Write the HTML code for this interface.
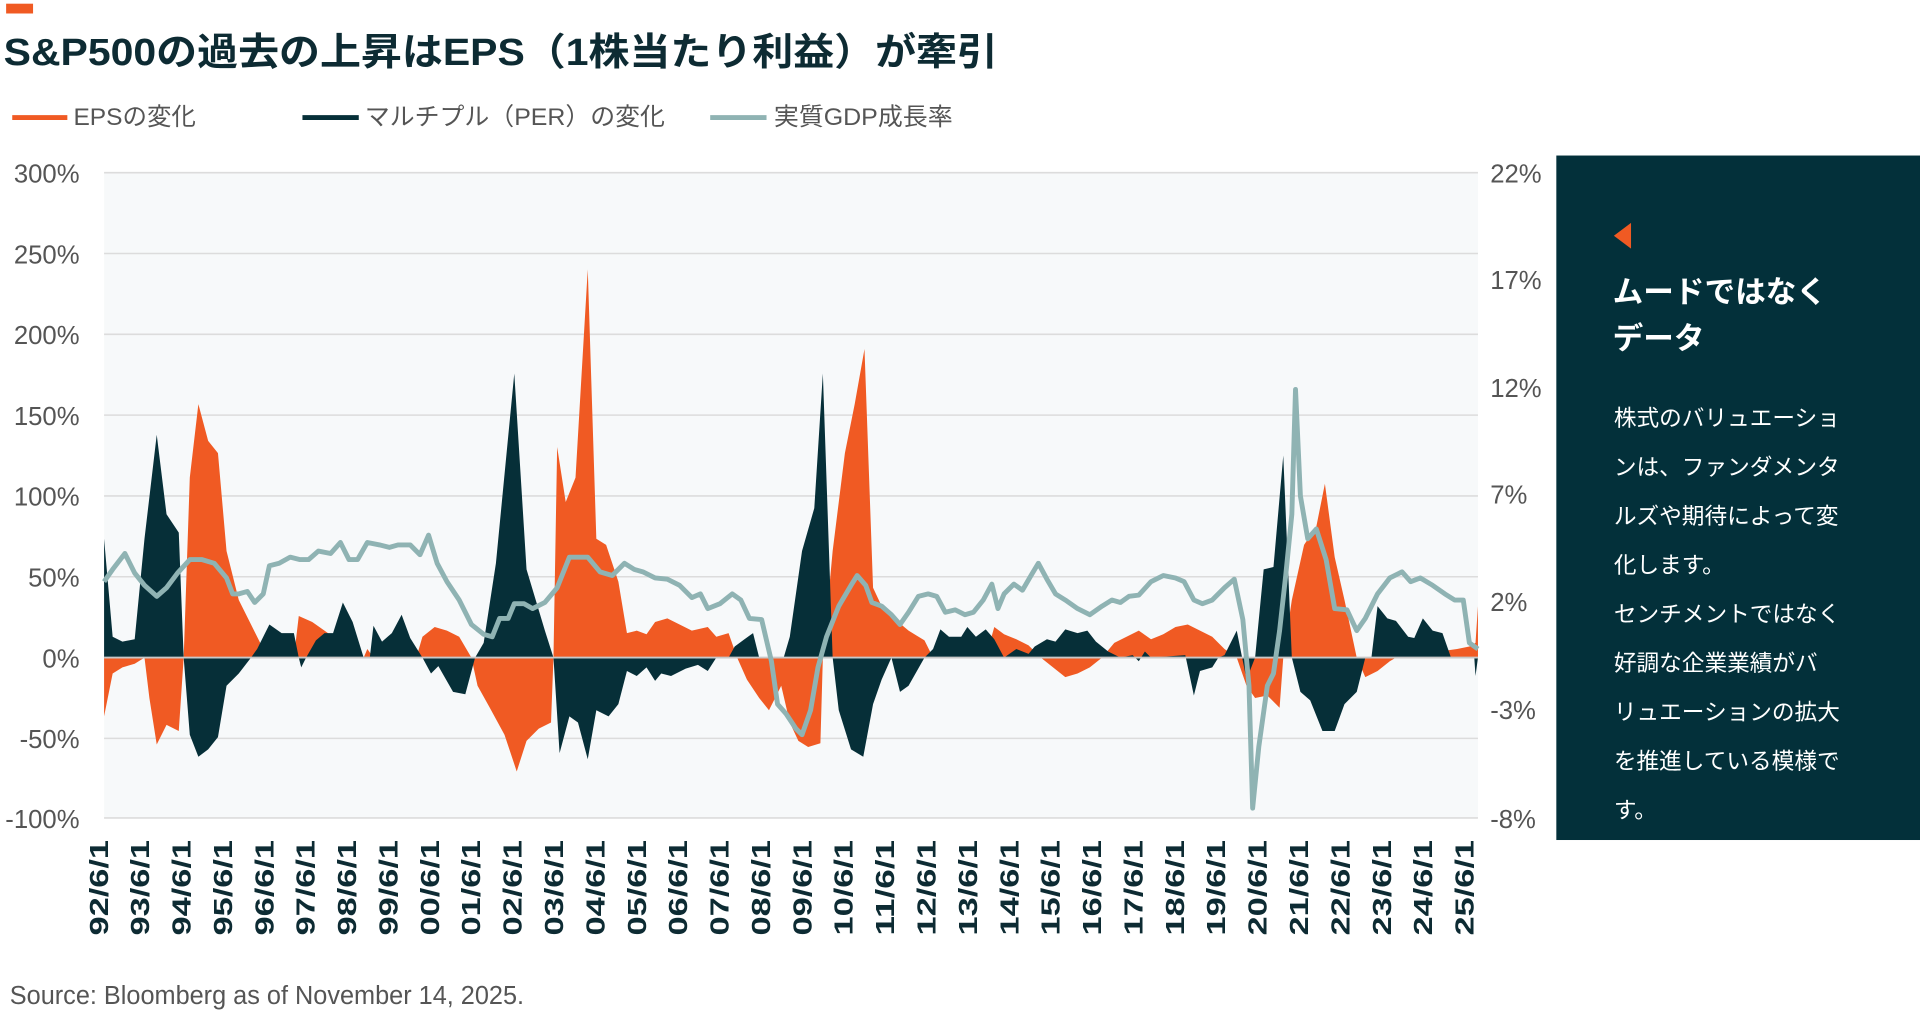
<!DOCTYPE html>
<html><head><meta charset="utf-8"><style>
html,body{margin:0;padding:0;background:#fff;width:1920px;height:1016px;overflow:hidden}
svg{display:block}
text{font-family:"Liberation Sans","Noto Sans CJK JP",sans-serif}
</style></head><body>
<svg width="1920" height="1016" viewBox="0 0 1568 829.7" xmlns="http://www.w3.org/2000/svg">
<rect x="5" y="3" width="22" height="8" fill="#f05a23"/>
<text x="3" y="53" font-size="31" font-weight="bold" fill="#0d2b33" textLength="812" lengthAdjust="spacingAndGlyphs">S&amp;P500の過去の上昇はEPS（1株当たり利益）が牽引</text>
<g font-size="20" fill="#555">
<line x1="10" y1="96" x2="55" y2="96" stroke="#f05a23" stroke-width="4"/><text x="60" y="102" textLength="100" lengthAdjust="spacingAndGlyphs">EPSの変化</text>
<line x1="247" y1="96" x2="293" y2="96" stroke="#062f38" stroke-width="4"/><text x="298" y="102" textLength="245" lengthAdjust="spacingAndGlyphs">マルチプル（PER）の変化</text>
<line x1="580" y1="96" x2="626" y2="96" stroke="#8fb3b3" stroke-width="4"/><text x="632" y="102" textLength="146" lengthAdjust="spacingAndGlyphs">実質GDP成長率</text>
</g>
<rect x="85" y="141" width="1122" height="527" fill="#f7f9fa"/>
<g stroke="#dcdcdc" stroke-width="1.3">
<line x1="85" y1="141" x2="1207" y2="141"/><line x1="85" y1="207" x2="1207" y2="207"/><line x1="85" y1="273" x2="1207" y2="273"/><line x1="85" y1="339" x2="1207" y2="339"/><line x1="85" y1="405" x2="1207" y2="405"/><line x1="85" y1="471" x2="1207" y2="471"/><line x1="85" y1="603" x2="1207" y2="603"/><line x1="85" y1="668" x2="1207" y2="668"/>
</g>
<g font-size="21" fill="#555" text-anchor="end">
<text x="65" y="149">300%</text><text x="65" y="215">250%</text><text x="65" y="281">200%</text><text x="65" y="347">150%</text><text x="65" y="413">100%</text><text x="65" y="479">50%</text><text x="65" y="545">0%</text><text x="65" y="611">-50%</text><text x="65" y="676">-100%</text>
</g>
<g font-size="21" fill="#555">
<text x="1217" y="149">22%</text><text x="1217" y="236">17%</text><text x="1217" y="324">12%</text><text x="1217" y="411">7%</text><text x="1217" y="499">2%</text><text x="1217" y="587">-3%</text><text x="1217" y="676">-8%</text>
</g>
<polygon fill="#f05a23" points="85,537 85,585 92,550 100,545 110,542 118,537 122,570 128,608 136,592 146,597 150,537 155,390 162,330 170,360 178,370 185,450 195,490 205,510 215,530 220,537 240,537 244,503 255,508 265,515 272,520 280,537 297,537 300,530 305,537 340,537 345,520 355,512 365,515 375,520 385,537 390,560 400,578 412,600 422,630 430,605 440,595 450,590 452,537 455,365 462,410 470,390 480,220 487,440 495,445 505,475 512,517 520,515 528,518 535,508 545,505 555,510 565,515 578,512 585,520 595,517 602,537 610,555 620,570 628,580 638,560 645,590 652,605 660,610 670,607 672,537 680,450 690,370 698,330 706,285 713,480 720,495 730,505 742,515 755,523 762,537 805,537 812,512 820,518 830,522 840,527 850,537 860,545 870,553 880,550 890,545 900,537 910,525 920,520 930,515 940,522 950,518 960,512 970,510 980,515 990,520 1000,530 1010,537 1018,560 1025,570 1035,568 1045,578 1048,537 1055,490 1065,445 1075,430 1082,395 1090,455 1098,490 1108,537 1115,553 1125,548 1135,540 1140,537 1190,530 1200,528 1205,525 1207,495 1207,537"/>
<polygon fill="#062f38" points="85,537 85,440 92,520 100,524 110,522 118,440 128,355 136,420 146,435 150,537 155,600 162,618 170,612 178,602 185,560 195,550 205,537 210,530 220,510 230,517 240,517 244,537 246,545 250,537 258,523 265,517 272,517 280,492 288,508 297,537 302,537 305,511 312,524 320,517 328,502 335,521 345,537 352,550 358,544 370,565 380,567 388,537 395,525 405,460 420,305 430,465 445,515 452,537 457,615 465,585 472,590 480,620 487,580 497,585 505,575 512,548 520,552 528,545 535,556 540,550 548,552 560,546 570,543 578,548 585,537 595,537 600,528 608,522 615,517 620,537 640,537 645,520 655,450 665,415 672,305 680,537 685,580 695,612 705,618 713,575 720,555 728,537 735,565 742,560 755,537 762,530 768,514 775,520 785,520 790,512 797,520 805,514 812,522 820,537 830,530 840,534 845,528 855,522 862,524 870,514 880,517 888,515 895,524 905,532 915,537 925,535 930,540 935,532 940,537 968,535 975,568 980,548 990,545 995,537 1000,535 1010,515 1018,555 1025,537 1032,465 1040,463 1048,372 1055,537 1062,565 1070,572 1080,597 1090,597 1098,575 1108,565 1115,537 1120,537 1125,495 1133,505 1140,507 1150,520 1155,521 1162,505 1170,515 1178,517 1185,537 1204,537 1205,552 1207,537"/>
<line x1="85" y1="537" x2="1207" y2="537" stroke="#c8c8c8" stroke-width="1.5"/>
<polyline fill="none" stroke="#8fb3b3" stroke-width="4" stroke-linejoin="round" points="85,475 92,465 102,452 110,468 118,478 128,487 136,480 145,468 155,457 165,457 175,460 185,472 190,485 195,485 202,483 208,492 215,485 220,462 228,460 237,455 245,457 252,457 260,450 270,452 278,443 285,457 292,457 300,443 310,445 318,447 325,445 335,445 343,453 350,437 357,460 365,475 375,490 385,510 395,518 402,520 408,505 415,505 420,493 428,493 435,497 445,492 455,480 465,455 472,455 480,455 490,467 500,470 510,460 518,465 525,467 535,472 545,473 555,478 565,488 572,485 578,497 588,493 598,485 605,490 612,505 622,506 630,540 635,575 642,583 650,595 655,600 662,580 668,545 675,520 685,495 695,478 700,470 707,478 712,492 720,495 728,502 735,510 742,500 750,487 758,485 765,487 772,500 780,498 788,502 795,500 803,490 810,477 815,497 820,485 828,477 835,482 842,470 848,460 855,473 862,485 870,490 880,497 890,502 900,495 908,490 915,492 922,487 930,486 940,475 950,470 960,472 967,475 975,490 982,493 990,490 1000,480 1008,473 1015,506 1020,560 1023,660 1028,610 1035,560 1040,550 1045,515 1050,470 1055,420 1058,318 1062,405 1068,440 1075,432 1083,457 1090,497 1100,498 1108,515 1115,505 1125,485 1135,472 1145,467 1152,475 1160,472 1170,478 1180,485 1188,490 1195,490 1200,525 1207,530"/>
<g font-size="21" font-weight="bold" fill="#0d2b33" text-anchor="end">
<text transform="translate(88,686) rotate(-90)" textLength="78" lengthAdjust="spacingAndGlyphs">92/6/1</text>
<text transform="translate(121.8,686) rotate(-90)" textLength="78" lengthAdjust="spacingAndGlyphs">93/6/1</text>
<text transform="translate(155.6,686) rotate(-90)" textLength="78" lengthAdjust="spacingAndGlyphs">94/6/1</text>
<text transform="translate(189.4,686) rotate(-90)" textLength="78" lengthAdjust="spacingAndGlyphs">95/6/1</text>
<text transform="translate(223.2,686) rotate(-90)" textLength="78" lengthAdjust="spacingAndGlyphs">96/6/1</text>
<text transform="translate(257,686) rotate(-90)" textLength="78" lengthAdjust="spacingAndGlyphs">97/6/1</text>
<text transform="translate(290.8,686) rotate(-90)" textLength="78" lengthAdjust="spacingAndGlyphs">98/6/1</text>
<text transform="translate(324.6,686) rotate(-90)" textLength="78" lengthAdjust="spacingAndGlyphs">99/6/1</text>
<text transform="translate(358.4,686) rotate(-90)" textLength="78" lengthAdjust="spacingAndGlyphs">00/6/1</text>
<text transform="translate(392.2,686) rotate(-90)" textLength="78" lengthAdjust="spacingAndGlyphs">01/6/1</text>
<text transform="translate(426,686) rotate(-90)" textLength="78" lengthAdjust="spacingAndGlyphs">02/6/1</text>
<text transform="translate(459.8,686) rotate(-90)" textLength="78" lengthAdjust="spacingAndGlyphs">03/6/1</text>
<text transform="translate(493.6,686) rotate(-90)" textLength="78" lengthAdjust="spacingAndGlyphs">04/6/1</text>
<text transform="translate(527.4,686) rotate(-90)" textLength="78" lengthAdjust="spacingAndGlyphs">05/6/1</text>
<text transform="translate(561.2,686) rotate(-90)" textLength="78" lengthAdjust="spacingAndGlyphs">06/6/1</text>
<text transform="translate(595,686) rotate(-90)" textLength="78" lengthAdjust="spacingAndGlyphs">07/6/1</text>
<text transform="translate(628.8,686) rotate(-90)" textLength="78" lengthAdjust="spacingAndGlyphs">08/6/1</text>
<text transform="translate(662.6,686) rotate(-90)" textLength="78" lengthAdjust="spacingAndGlyphs">09/6/1</text>
<text transform="translate(696.4,686) rotate(-90)" textLength="78" lengthAdjust="spacingAndGlyphs">10/6/1</text>
<text transform="translate(730.2,686) rotate(-90)" textLength="78" lengthAdjust="spacingAndGlyphs">11/6/1</text>
<text transform="translate(764,686) rotate(-90)" textLength="78" lengthAdjust="spacingAndGlyphs">12/6/1</text>
<text transform="translate(797.8,686) rotate(-90)" textLength="78" lengthAdjust="spacingAndGlyphs">13/6/1</text>
<text transform="translate(831.6,686) rotate(-90)" textLength="78" lengthAdjust="spacingAndGlyphs">14/6/1</text>
<text transform="translate(865.4,686) rotate(-90)" textLength="78" lengthAdjust="spacingAndGlyphs">15/6/1</text>
<text transform="translate(899.2,686) rotate(-90)" textLength="78" lengthAdjust="spacingAndGlyphs">16/6/1</text>
<text transform="translate(933,686) rotate(-90)" textLength="78" lengthAdjust="spacingAndGlyphs">17/6/1</text>
<text transform="translate(966.8,686) rotate(-90)" textLength="78" lengthAdjust="spacingAndGlyphs">18/6/1</text>
<text transform="translate(1000.6,686) rotate(-90)" textLength="78" lengthAdjust="spacingAndGlyphs">19/6/1</text>
<text transform="translate(1034.4,686) rotate(-90)" textLength="78" lengthAdjust="spacingAndGlyphs">20/6/1</text>
<text transform="translate(1068.2,686) rotate(-90)" textLength="78" lengthAdjust="spacingAndGlyphs">21/6/1</text>
<text transform="translate(1102,686) rotate(-90)" textLength="78" lengthAdjust="spacingAndGlyphs">22/6/1</text>
<text transform="translate(1135.8,686) rotate(-90)" textLength="78" lengthAdjust="spacingAndGlyphs">23/6/1</text>
<text transform="translate(1169.6,686) rotate(-90)" textLength="78" lengthAdjust="spacingAndGlyphs">24/6/1</text>
<text transform="translate(1203.4,686) rotate(-90)" textLength="78" lengthAdjust="spacingAndGlyphs">25/6/1</text>
</g>
<text x="8" y="820" font-size="21" fill="#555" textLength="420" lengthAdjust="spacingAndGlyphs">Source: Bloomberg as of November 14, 2025.</text>
<rect x="1271" y="127" width="297" height="559" fill="#03303a"/>
<polygon points="1332,182 1332,203 1318,192.5" fill="#f05a23"/>
<g fill="#fff" font-weight="bold" font-size="25"><text x="1317" y="247">ムードではなく</text><text x="1317" y="285">データ</text></g>
<g fill="#fff" font-size="18.5">
<text x="1318" y="348">株式のバリュエーショ</text>
<text x="1318" y="388">ンは、ファンダメンタ</text>
<text x="1318" y="428">ルズや期待によって変</text>
<text x="1318" y="468">化します。</text>
<text x="1318" y="508">センチメントではなく</text>
<text x="1318" y="548">好調な企業業績がバ</text>
<text x="1318" y="588">リュエーションの拡大</text>
<text x="1318" y="628">を推進している模様で</text>
<text x="1318" y="668">す。</text>
</g>
</svg>
</body></html>
